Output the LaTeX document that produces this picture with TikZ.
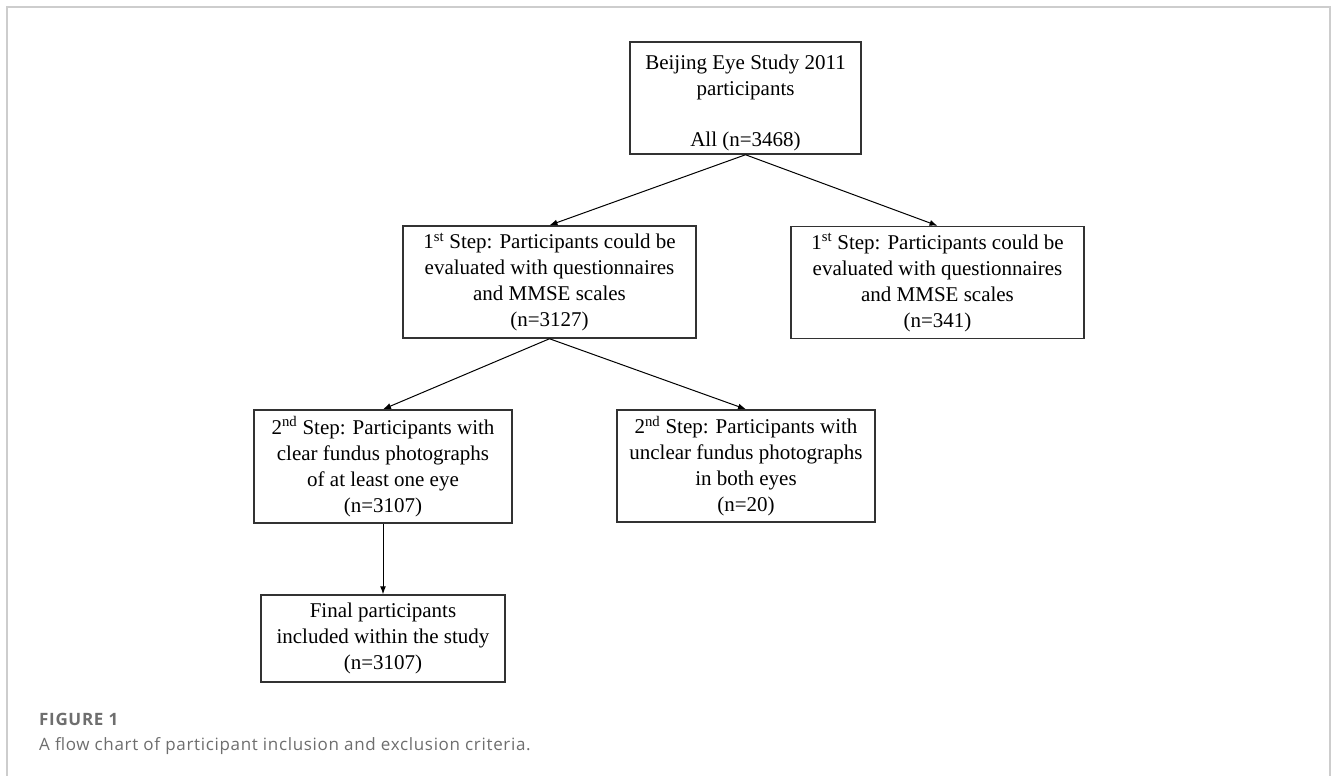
\documentclass[tikz,border=0pt]{standalone}
\usepackage{fontspec}
\setmainfont{Liberation Serif}
\newfontfamily\capfont[LetterSpace=4]{Open Sans}
\usetikzlibrary{arrows.meta}
\definecolor{framegray}{RGB}{205,205,205}
\definecolor{boxline}{RGB}{50,50,50}
\definecolor{capgray}{RGB}{110,110,110}
\tikzset{
  box/.style={draw=boxline, line width=1.5pt, rectangle, align=center, inner sep=0pt,
    font=\fontsize{21}{26}\selectfont},
  boxtext/.style={align=center, inner sep=0pt, font=\fontsize{21}{25.5}\selectfont},
  conn/.style={draw=black, line width=1pt, -{Latex[length=8pt,width=6pt]}},
}
\begin{document}
\begin{tikzpicture}[x=1pt,y=-1pt]
\useasboundingbox (0,0) rectangle (1331,776);
\fill[white] (0,0) rectangle (1331,776);
\draw[framegray, line width=2pt] (7,790) -- (7,7) -- (1330,7) -- (1330,790);

\node[box, minimum width=231pt, minimum height=112pt] (top) at (745.5,98) {};
\node[boxtext] (toptext) at (745.5,103)
  {Beijing Eye Study 2011\\participants\\[25.5pt]All (n=3468)};
\node[box, minimum width=293pt, minimum height=112pt] (s1a) at (549.5,282)
  {1\textsuperscript{st} Step: Participants could be\\evaluated with questionnaires\\and MMSE scales\\(n=3127)};
\node[box, minimum width=293pt, minimum height=112pt] (s1b) at (937.5,282.5)
  {1\textsuperscript{st} Step: Participants could be\\evaluated with questionnaires\\and MMSE scales\\(n=341)};
\node[box, minimum width=258pt, minimum height=113pt] (s2a) at (383,466.5)
  {2\textsuperscript{nd} Step: Participants with\\clear fundus photographs\\of at least one eye\\(n=3107)};
\node[box, minimum width=258pt, minimum height=112pt] (s2b) at (746,466)
  {2\textsuperscript{nd} Step: Participants with\\unclear fundus photographs\\in both eyes\\(n=20)};
\node[box, minimum width=244pt, minimum height=87pt] (fin) at (383,638.5)
  {Final participants\\included within the study\\(n=3107)};

\draw[conn] (top.south) -- (s1a.north);
\draw[conn] (top.south) -- (s1b.north);
\draw[conn] (s1a.south) -- (s2a.north);
\draw[conn] (s1a.south) -- (s2b.north);
\draw[conn] (s2a.south) -- (fin.north);

\node[anchor=base west, inner sep=0pt, text=capgray, font=\capfont\bfseries\fontsize{17}{20}\selectfont] (figlabel) at (39,725) {FIGURE 1};
\node[anchor=base west, inner sep=0pt, text=capgray, font=\capfont\fontsize{17}{20}\selectfont] (figcap) at (39,750) {A flow chart of participant inclusion and exclusion criteria.};
\end{tikzpicture}
\end{document}
